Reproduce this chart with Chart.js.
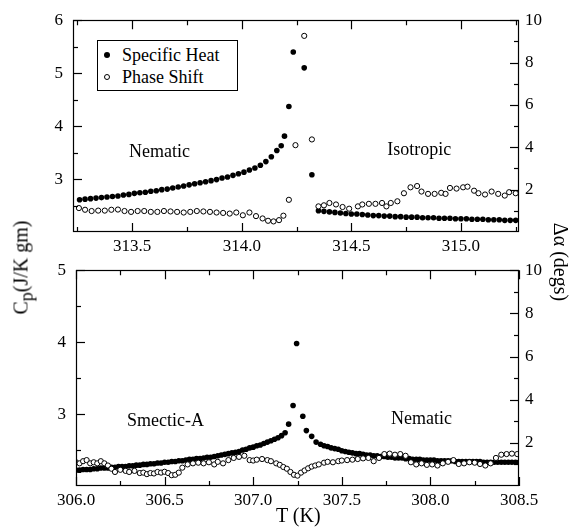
<!DOCTYPE html>
<html>
<head>
<meta charset="utf-8">
<script src="https://cdn.jsdelivr.net/npm/chart.js@4.4.1/dist/chart.umd.min.js"></script>
<style>
  html, body { margin: 0; padding: 0; background: #fff; }
  #wrap { position: relative; width: 570px; height: 529px; overflow: hidden; font-family: 'Liberation Serif'; color: #000; }
  canvas { position: absolute; left: 0; }
  .lbl { position: absolute; white-space: nowrap; font-family: 'Liberation Serif'; font-size: 20px; line-height: 1; }
  #legend { position: absolute; left: 97px; top: 40px; width: 139px; height: 49px; border: 1px solid #000; background: #fff; font-family: 'Liberation Serif'; font-size: 18px; }
  .li { position: absolute; left: 0; width: 139px; height: 20px; line-height: 20px; white-space: nowrap; }
  .li span.t { position: absolute; left: 24px; top: 0; white-space: nowrap; }
  .dot { position: absolute; left: 6px; top: 7px; width: 6px; height: 6px; border-radius: 50%; box-sizing: border-box; }
</style>
</head>
<body>
<div id="wrap">
  <canvas id="topChart" width="570" height="255" style="top:0px"></canvas>
  <canvas id="botChart" width="570" height="279" style="top:250px"></canvas>
  <div id="legend">
    <div class="li" style="top:4px"><span class="dot" style="background:#000"></span><span class="t">Specific Heat</span></div>
    <div class="li" style="top:26px"><span class="dot" style="border:1px solid #000;background:#fff"></span><span class="t">Phase Shift</span></div>
  </div>
  <div class="lbl" id="ylab" style="left:-42px; top:255px; transform: rotate(-90deg); transform-origin: center; width:130px; text-align:center;">C<sub style="font-size:18px">p</sub>(J/K gm)</div>
  <div class="lbl" id="y2lab" style="left:506px; top:252px; transform: rotate(90deg); transform-origin: center; width:110px; text-align:center;">&Delta;&alpha; (degs)</div>
  <div class="lbl" id="xlab" style="left:276px; top:505px;">T (K)</div>
</div>
<script>
// ---------- DATA ----------
// Top panel (Nematic -> Isotropic)
const topCpT = [313.260,313.285,313.310,313.335,313.360,313.385,313.410,313.435,313.460,313.485,313.510,313.535,313.560,313.585,313.610,313.635,313.660,313.685,313.710,313.735,313.760,313.785,313.810,313.835,313.860,313.885,313.910,313.935,313.960,313.985,314.010,314.035,314.060,314.085,314.110,314.135,314.160,314.180,314.195,314.215,314.235,314.285,314.320,
  314.350,314.375,314.400,314.425,314.450,314.475,314.500,314.525,314.550,314.575,314.600,314.625,314.650,314.675,314.700,314.725,314.750,314.775,314.800,314.825,314.850,314.875,314.900,314.925,314.950,314.975,315.000,315.025,315.050,315.075,315.100,315.125,315.150,315.175,315.200,315.225,315.250];
const topCpV = [2.61,2.62,2.63,2.64,2.65,2.66,2.67,2.68,2.70,2.71,2.73,2.74,2.75,2.77,2.78,2.80,2.81,2.83,2.85,2.87,2.89,2.91,2.93,2.95,2.97,2.99,3.02,3.04,3.07,3.10,3.13,3.17,3.21,3.26,3.33,3.42,3.54,3.63,3.81,4.37,5.40,5.10,3.08,
  2.40,2.39,2.38,2.37,2.36,2.35,2.34,2.34,2.33,2.32,2.31,2.31,2.30,2.30,2.29,2.29,2.28,2.28,2.28,2.27,2.27,2.27,2.26,2.26,2.26,2.25,2.25,2.25,2.24,2.24,2.24,2.23,2.23,2.23,2.22,2.22,2.22];
const topPhT = [313.257,313.285,313.315,313.345,313.375,313.405,313.435,313.465,313.495,313.525,313.555,313.585,313.615,313.645,313.675,313.705,313.735,313.765,313.795,313.825,313.855,313.885,313.915,313.945,313.975,314.005,314.035,314.065,314.095,314.120,314.145,314.170,314.190,314.215,314.245,314.285,314.320,
  314.350,314.375,314.400,314.430,314.460,314.490,314.530,314.550,314.580,314.610,314.640,314.660,314.680,314.710,314.740,314.770,314.800,314.820,314.850,314.880,314.910,314.930,314.950,314.980,315.010,315.030,315.060,315.080,315.110,315.140,315.170,315.200,315.220,315.250];
const topPhV = [1.13,1.05,0.99,1.01,1.01,1.05,1.06,0.99,0.95,0.99,0.99,0.95,0.95,0.99,0.97,0.95,0.92,0.95,0.99,0.97,0.95,0.92,0.90,0.87,0.92,0.79,0.92,0.75,0.64,0.53,0.50,0.56,0.77,1.52,4.10,9.26,4.37,
  1.21,1.26,1.37,1.30,1.18,1.10,1.21,1.30,1.33,1.33,1.37,1.21,1.37,1.45,1.83,2.11,2.17,1.91,1.80,1.80,1.85,1.80,2.08,2.05,2.11,2.14,1.95,1.83,1.77,1.91,1.80,1.72,1.88,1.83];

// Bottom panel (Smectic-A -> Nematic)
const botCpT = [306.00,306.02,306.04,306.06,306.08,306.10,306.12,306.14,306.16,306.18,306.20,306.22,306.24,306.26,306.28,306.30,306.32,306.34,306.36,306.38,306.40,306.42,306.44,306.46,306.48,306.50,306.52,306.54,306.56,306.58,306.60,306.62,306.64,306.66,306.68,306.70,306.72,306.74,306.76,306.78,306.80,306.82,306.84,306.86,306.88,306.90,306.92,306.94,306.96,306.98,307.00,307.02,307.04,307.06,307.08,307.10,307.12,307.14,307.16,307.18,307.20,307.225,307.245,307.28,307.30,307.33,307.355,
  307.38,307.40,307.42,307.44,307.46,307.48,307.50,307.52,307.54,307.56,307.58,307.60,307.62,307.64,307.66,307.68,307.70,307.72,307.74,307.76,307.78,307.80,307.82,307.84,307.86,307.88,307.90,307.92,307.94,307.96,307.98,308.00,308.02,308.04,308.06,308.08,308.10,308.12,308.14,308.16,308.18,308.20,308.22,308.24,308.26,308.28,308.30,308.32,308.34,308.36,308.38,308.40,308.42,308.44,308.46,308.48,308.50];
const botCpV = [2.22,2.22,2.23,2.23,2.23,2.24,2.24,2.25,2.25,2.25,2.26,2.26,2.27,2.27,2.27,2.28,2.28,2.29,2.29,2.30,2.30,2.31,2.31,2.32,2.32,2.33,2.33,2.34,2.34,2.35,2.35,2.36,2.37,2.37,2.38,2.38,2.39,2.40,2.40,2.41,2.42,2.43,2.44,2.45,2.46,2.47,2.48,2.50,2.51,2.53,2.54,2.56,2.57,2.59,2.61,2.63,2.65,2.67,2.70,2.74,2.86,3.12,3.98,2.97,2.77,2.69,2.61,
  2.58,2.56,2.55,2.53,2.52,2.51,2.49,2.48,2.47,2.46,2.45,2.45,2.44,2.43,2.43,2.42,2.42,2.41,2.41,2.40,2.40,2.39,2.39,2.39,2.38,2.38,2.37,2.37,2.37,2.36,2.36,2.36,2.36,2.35,2.35,2.35,2.35,2.35,2.34,2.34,2.34,2.34,2.34,2.34,2.34,2.34,2.33,2.33,2.33,2.33,2.33,2.33,2.33,2.33,2.33,2.33,2.33];
const botPhT = [306.00,306.02,306.04,306.06,306.08,306.10,306.12,306.14,306.16,306.18,306.20,306.22,306.25,306.28,306.30,306.33,306.36,306.38,306.40,306.42,306.44,306.46,306.48,306.50,306.52,306.54,306.56,306.58,306.60,306.63,306.66,306.69,306.72,306.75,306.78,306.80,306.83,306.86,306.89,306.92,306.95,306.98,307.00,307.02,307.05,307.08,307.10,307.13,307.15,307.17,307.19,307.21,307.23,307.25,307.27,307.29,307.31,307.33,307.35,307.37,307.40,307.42,307.45,307.48,307.50,307.53,307.56,307.59,307.62,307.65,307.68,307.71,307.74,307.77,307.80,307.83,307.86,307.89,307.92,307.95,307.98,308.01,308.04,308.07,308.10,308.13,308.16,308.19,308.22,308.25,308.28,308.31,308.34,308.37,308.40,308.43,308.46,308.49];
const botPhV = [1.10,1.05,1.15,1.20,1.05,1.10,1.05,1.15,1.05,0.95,0.80,0.65,0.75,0.70,0.65,0.70,0.60,0.62,0.55,0.60,0.58,0.65,0.62,0.66,0.60,0.50,0.52,0.62,0.85,1.00,1.05,1.08,1.05,1.10,1.00,1.12,1.05,1.20,1.30,1.35,1.40,1.20,1.18,1.22,1.25,1.20,1.15,1.05,0.98,0.88,0.80,0.65,0.52,0.48,0.62,0.72,0.82,0.90,0.95,1.00,1.08,1.12,1.10,1.15,1.18,1.20,1.22,1.25,1.28,1.30,1.15,1.30,1.48,1.50,1.45,1.48,1.40,1.10,1.00,1.05,0.98,1.00,0.95,1.05,1.12,1.20,1.02,1.05,1.10,1.08,1.02,0.95,1.05,1.30,1.45,1.48,1.50,1.48];

// Tick labels / axis values
const topXTicks = [313.5, 314.0, 314.5, 315.0];
const topXMinor = [313.25, 313.75, 314.25, 314.75, 315.25];
const topYTicks = [3, 4, 5, 6];
const topYMinor = [2.5, 3.5, 4.5, 5.5];
const botXTicks = [306.0, 306.5, 307.0, 307.5, 308.0, 308.5];
const botXMinor = [306.25, 306.75, 307.25, 307.75, 308.25];
const botYTicks = [3, 4, 5];
const botYMinor = [2.5, 3.5, 4.5];
const y2Ticks = [2, 4, 6, 8, 10];
const y2Minor = [1, 3, 5, 7, 9];

// ---------- RENDER ----------
Chart.defaults.font.family = "'Liberation Serif'";
Chart.defaults.font.size = 17;
Chart.defaults.color = '#000';

const toXY = (xs, ys) => xs.map((x, i) => ({ x: x, y: ys[i] }));

const frameTicks = {
  id: 'frameTicks',
  afterDraw(chart, args, o) {
    const { ctx, chartArea: a, scales } = chart;
    ctx.save();
    ctx.strokeStyle = '#000';
    ctx.lineWidth = 1.2;
    ctx.strokeRect(Math.round(a.left) + 0.5, Math.round(a.top) + 0.5, Math.round(a.right - a.left) - 1, Math.round(a.bottom - a.top) - 1);
    const M = 9, m = 5;
    const xt = (vals, len) => vals.forEach(v => {
      const p = Math.round(scales.x.getPixelForValue(v)) + 0.5;
      ctx.beginPath(); ctx.moveTo(p, a.bottom); ctx.lineTo(p, a.bottom - len);
      ctx.moveTo(p, a.top); ctx.lineTo(p, a.top + len); ctx.stroke();
    });
    const yt = (scale, vals, len, right) => vals.forEach(v => {
      const p = Math.round(scale.getPixelForValue(v)) + 0.5;
      ctx.beginPath();
      if (right) { ctx.moveTo(a.right, p); ctx.lineTo(a.right - len, p); }
      else { ctx.moveTo(a.left, p); ctx.lineTo(a.left + len, p); }
      ctx.stroke();
    });
    xt(o.xMajor, M); xt(o.xMinor, m);
    yt(scales.y, o.yMajor, M, false); yt(scales.y, o.yMinor, m, false);
    yt(scales.y2, o.y2Major, M, true); yt(scales.y2, o.y2Minor, m, true);
    ctx.fillStyle = '#000';
    ctx.font = "18px 'Liberation Serif'";
    ctx.textAlign = 'center';
    ctx.textBaseline = 'middle';
    o.labels.forEach(l => ctx.fillText(l.text, scales.x.getPixelForValue(l.x), scales.y.getPixelForValue(l.y)));
    ctx.restore();
  }
};

function makeChart(id, d) {
  return new Chart(document.getElementById(id), {
    type: 'scatter',
    data: {
      datasets: [
        { label: 'Phase Shift', data: toXY(d.phT, d.phV), yAxisID: 'y2',
          pointRadius: 2.6, pointBackgroundColor: '#fff', pointBorderColor: '#000', pointBorderWidth: 1, showLine: false },
        { label: 'Specific Heat', data: toXY(d.cpT, d.cpV), yAxisID: 'y',
          pointRadius: 2.8, pointBackgroundColor: '#000', pointBorderColor: '#000', pointBorderWidth: 0, showLine: false }
      ]
    },
    options: {
      responsive: false,
      animation: false,
      layout: { padding: { top: d.padTop, left: 0, right: 0, bottom: 0 } },
      plugins: {
        legend: { display: false },
        tooltip: { enabled: false },
        frameTicks: {
          xMajor: d.xTicks, xMinor: d.xMinor, yMajor: d.yTicks, yMinor: d.yMinor,
          y2Major: y2Ticks, y2Minor: y2Minor, labels: d.labels
        }
      },
      scales: {
        x: {
          type: 'linear', min: d.xMin, max: d.xMax,
          grid: { display: false, drawTicks: false }, border: { display: false },
          afterBuildTicks: s => { s.ticks = d.xTicks.map(v => ({ value: v })); },
          ticks: { padding: d.xPad, maxRotation: 0, autoSkip: false, callback: v => Number(v).toFixed(1) },
          afterFit: s => { s.height = d.xH; }
        },
        y: {
          type: 'linear', position: 'left', min: d.yMin, max: d.yMax,
          grid: { display: false, drawTicks: false }, border: { display: false },
          afterBuildTicks: s => { s.ticks = d.yTicks.map(v => ({ value: v })); },
          ticks: { padding: 10, callback: v => String(v) },
          afterFit: s => { s.width = d.yW; }
        },
        y2: {
          type: 'linear', position: 'right', min: 0, max: 10,
          grid: { display: false, drawTicks: false }, border: { display: false },
          afterBuildTicks: s => { s.ticks = y2Ticks.map(v => ({ value: v })); },
          ticks: { padding: 6, callback: v => String(v) },
          afterFit: s => { s.width = 51; }
        }
      }
    },
    plugins: [frameTicks]
  });
}

makeChart('topChart', {
  cpT: topCpT, cpV: topCpV, phT: topPhT, phV: topPhV,
  xMin: 313.23, xMax: 315.265, yMin: 2, yMax: 6,
  xTicks: topXTicks, xMinor: topXMinor, yTicks: topYTicks, yMinor: topYMinor,
  padTop: 17, xH: 23, yW: 73, xPad: 4,
  labels: [{ text: 'Nematic', x: 313.625, y: 3.5 }, { text: 'Isotropic', x: 314.81, y: 3.54 }]
});

makeChart('botChart', {
  cpT: botCpT, cpV: botCpV, phT: botPhT, phV: botPhV,
  xMin: 306.0, xMax: 308.5, yMin: 2, yMax: 5,
  xTicks: botXTicks, xMinor: botXMinor, yTicks: botYTicks, yMinor: botYMinor,
  padTop: 19, xH: 43, yW: 76, xPad: 4,
  labels: [{ text: 'Smectic-A', x: 306.505, y: 2.9 }, { text: 'Nematic', x: 307.95, y: 2.93 }]
});
</script>
</body>
</html>
